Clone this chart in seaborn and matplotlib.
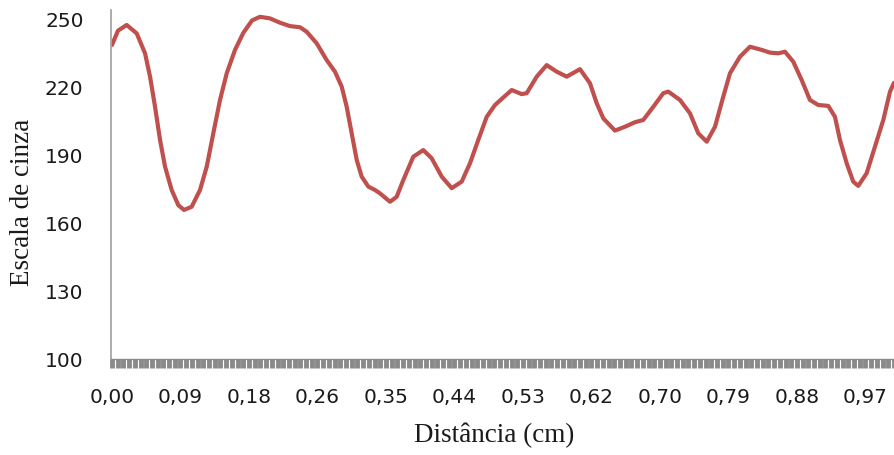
import matplotlib
matplotlib.use("Agg")
import matplotlib.pyplot as plt
from matplotlib.ticker import FixedLocator, MultipleLocator
import seaborn as sns
import pandas as pd

# distance (cm) and grey level
distance_cm = [0.000, 0.0077, 0.0188, 0.0316, 0.0423, 0.0487, 0.0551, 0.0615, 0.0679, 0.0764,
               0.0849, 0.0922, 0.1020, 0.1127, 0.1213, 0.1297, 0.1383, 0.1469, 0.1575, 0.1681,
               0.1793, 0.1895, 0.2023, 0.2151, 0.2279, 0.2407, 0.2493, 0.2621, 0.2749, 0.2855,
               0.2941, 0.3005, 0.3069, 0.3133, 0.3197, 0.3282, 0.3367, 0.3432, 0.3560, 0.3645,
               0.3730, 0.3858, 0.3986, 0.4093, 0.4222, 0.4350, 0.4478, 0.4584, 0.4690, 0.4798,
               0.4904, 0.5010, 0.5118, 0.5246, 0.5310, 0.5438, 0.5566, 0.5694, 0.5822, 0.5992,
               0.6120, 0.6206, 0.6291, 0.6440, 0.6568, 0.6697, 0.6803, 0.6931, 0.7059, 0.7123,
               0.7273, 0.7401, 0.7507, 0.7615, 0.7721, 0.7827, 0.7913, 0.8041, 0.8169, 0.8319,
               0.8425, 0.8531, 0.8617, 0.8723, 0.8831, 0.8937, 0.9043, 0.9171, 0.9257, 0.9321,
               0.9407, 0.9491, 0.9555, 0.9663, 0.9769, 0.9876, 0.9962, 1.0013]
grey_level = [238.7, 245.0, 247.5, 243.8, 235.0, 224.7, 211.4, 196.8, 185.0, 174.7,
              168.0, 165.9, 167.3, 174.7, 185.0, 199.7, 214.4, 226.2, 236.5, 244.0,
              249.5, 251.1, 250.4, 248.5, 247.0, 246.5, 244.5, 239.4, 232.0, 226.9,
              220.3, 211.4, 199.7, 188.0, 180.6, 176.2, 174.7, 173.2, 169.5, 171.7,
              179.1, 189.4, 192.3, 188.7, 180.6, 175.5, 178.4, 186.5, 196.8, 207.0,
              212.2, 215.5, 218.8, 217.0, 217.4, 224.7, 229.8, 226.9, 224.7, 228.0,
              221.8, 213.0, 206.3, 200.9, 202.6, 204.6, 205.6, 211.4, 217.4, 218.1,
              214.4, 208.5, 199.7, 196.0, 202.6, 215.9, 226.2, 233.5, 237.9, 236.5,
              235.3, 235.0, 235.7, 231.3, 223.2, 214.4, 212.2, 211.8, 207.0, 196.8,
              186.5, 178.4, 176.5, 182.1, 193.8, 205.6, 218.1, 222.0]

x_tick_labels = ["0,00", "0,09", "0,18", "0,26", "0,35", "0,44",
                 "0,53", "0,62", "0,70", "0,79", "0,88", "0,97"]
label_step_cm = 0.0877
y_ticks = [100, 130, 160, 190, 220, 250]

df = pd.DataFrame({"Distância (cm)": distance_cm, "Escala de cinza": grey_level})

sns.set_theme(style="white")
plt.rcParams["font.family"] = ["DejaVu Sans"]

fig = plt.figure(figsize=(8.94, 4.55), dpi=100)
ax = fig.add_axes([0.1238, 0.2103, 0.8762, 0.7677])

sns.lineplot(data=df, x="Distância (cm)", y="Escala de cinza", ax=ax,
             color="#C0504D", linewidth=3.0, sort=False,
             solid_joinstyle="round", solid_capstyle="round")

ax.set_xlim(-0.0017, 1.0013)
ax.set_ylim(100, 254.1)

ax.set_yticks(y_ticks)
ax.set_yticklabels([str(v) for v in y_ticks])
ax.xaxis.set_major_locator(FixedLocator([i * label_step_cm for i in range(len(x_tick_labels))]))
ax.set_xticklabels(x_tick_labels)
ax.xaxis.set_minor_locator(MultipleLocator(label_step_cm / 12))

for s in ["top", "right"]:
    ax.spines[s].set_visible(False)
ax.spines["left"].set_color("#A6A6A6")
ax.spines["left"].set_linewidth(1.3)
ax.spines["bottom"].set_color("#8A8A8A")
ax.spines["bottom"].set_linewidth(1.0)

ax.tick_params(axis="y", which="major", direction="out", length=6.5, width=1.0,
               color="#A6A6A6", pad=13, labelsize=14.5, labelcolor="#1a1a1a")
ax.tick_params(axis="x", which="both", direction="out", length=6.5, width=3.5,
               color="#8A8A8A", bottom=True)
ax.tick_params(axis="x", which="major", pad=14, labelsize=14.5, labelcolor="#1a1a1a")

ax.set_xlabel("Distância (cm)", family=["Liberation Serif"], fontsize=19.5,
              color="#1a1a1a", va="center")
ax.set_ylabel("Escala de cinza", family=["Liberation Serif"], fontsize=19.5,
              color="#1a1a1a", va="center")
ax.xaxis.set_label_coords(0.489, -0.2167)
ax.yaxis.set_label_coords(-0.1132, 0.450)

fig.savefig("out.png", dpi=100)
